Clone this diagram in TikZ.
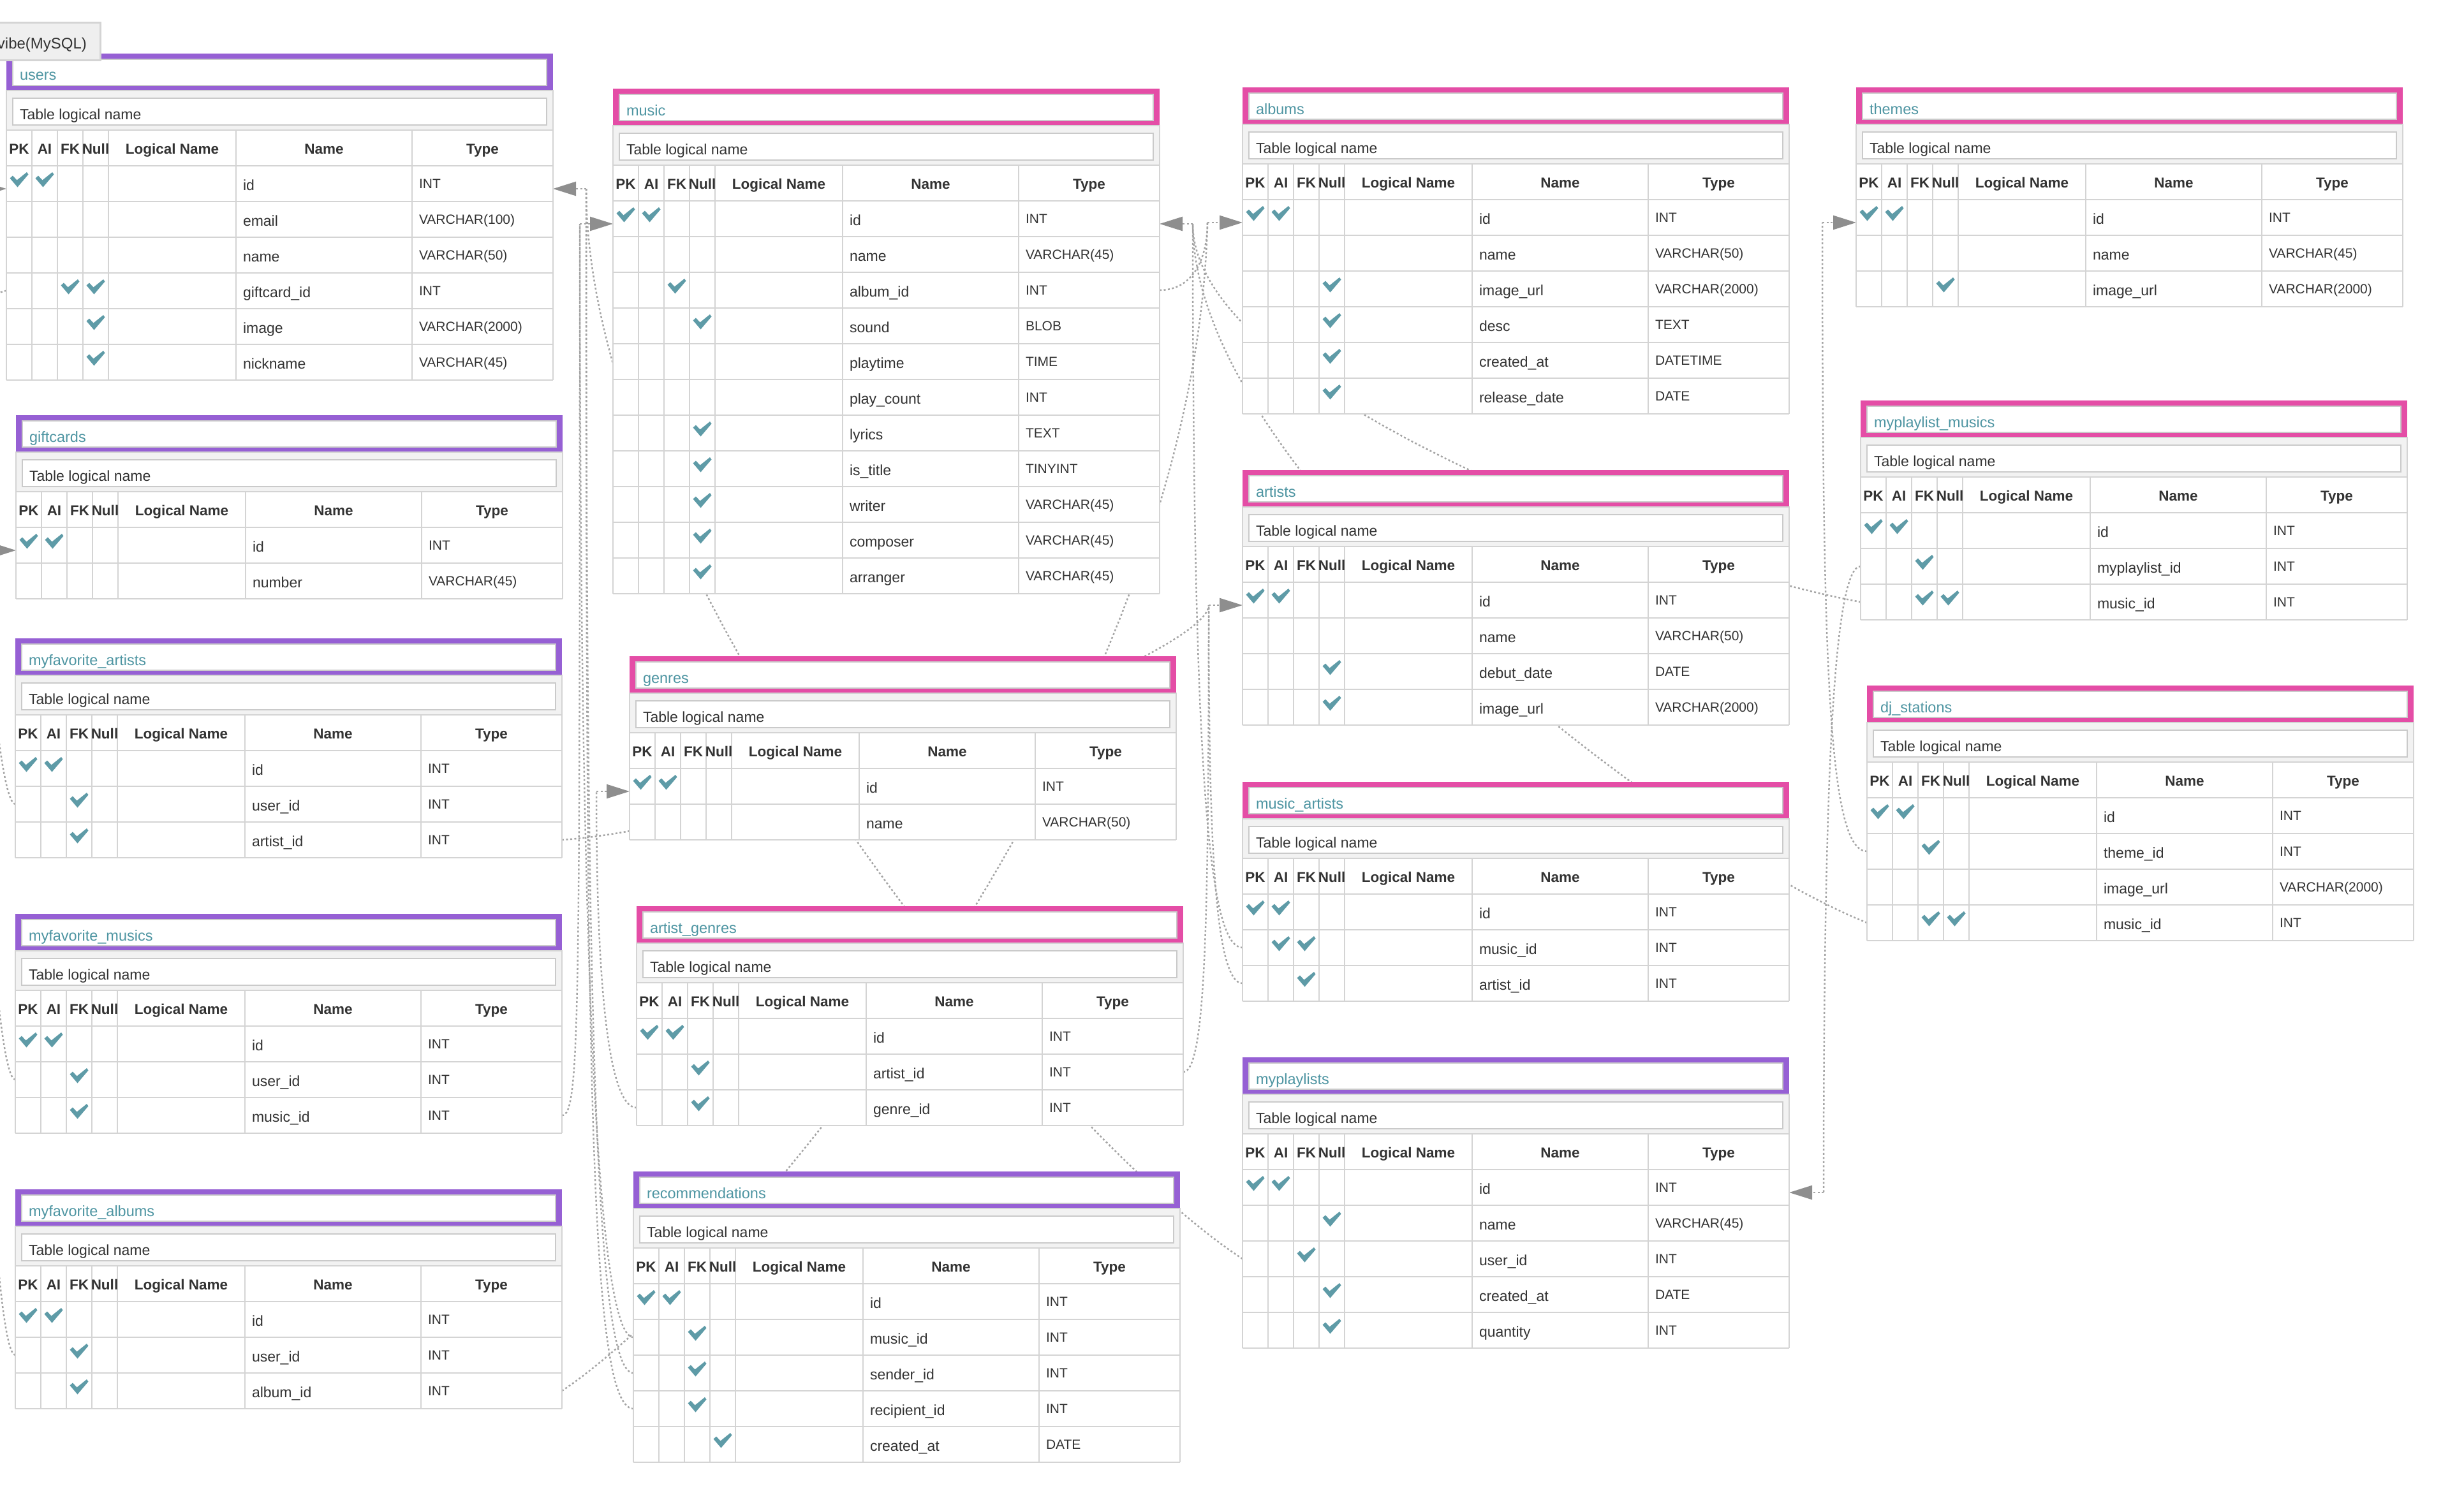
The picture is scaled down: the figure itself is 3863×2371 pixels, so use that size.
\documentclass[tikz,border=0pt]{standalone}
\usepackage{fontspec}
\setmainfont{Liberation Sans}
\usetikzlibrary{positioning,arrows.meta}
\pgfdeclarelayer{background}
\pgfsetlayers{background,main}

\definecolor{purpleframe}{HTML}{9660D4}
\definecolor{pinkframe}{HTML}{E44DA6}
\definecolor{titlecol}{HTML}{4E95A2}
\definecolor{chkcol}{HTML}{5E9BA7}
\definecolor{gridcol}{HTML}{D4D4D4}
\definecolor{bandcol}{HTML}{F2F2F2}
\definecolor{boxcol}{HTML}{CACACA}
\definecolor{textcol}{HTML}{333333}
\definecolor{linecol}{HTML}{A4A4A4}
\definecolor{arrowcol}{HTML}{8E8E8E}
\definecolor{tabcol}{HTML}{EFEFEF}

% one table: key, top left corner, number of rows, frame colour, title, rows
\newcommand{\erdtable}[6]{%
  \begin{scope}[shift={#2}]
    % title bar
    \fill[#4] (0,0) rectangle (857,58);
    \draw[innerbox] (10,9) rectangle (847,50);
    \node[titletext] (#1-title) at (21,42) {#5};
    % logical name bar
    \draw[bandbox] (0,58) rectangle (857,120);
    \draw[innerbox] (10,70) rectangle (847,112);
    \node[plaintext] (#1-logical) at (21,103) {Table logical name};
    % grid
    \pgfmathtruncatemacro{\yb}{176+56*#3}
    \fill[white] (0,120) rectangle (857,\yb);
    \foreach \cx in {0,40,80,120,160,360,636,857}
      \draw[grid] (\cx,120) -- (\cx,\yb);
    \foreach \cy in {120,176,...,\yb}
      \draw[grid] (0,\cy) -- (857,\cy);
    % header
    \foreach \h/\cx [count=\i] in {PK/20,AI/60,FK/100,Null/140,Logical Name/260,Name/498,Type/746.5}
      \node[headtext] (#1-head-\i) at (\cx,157) {\h};
    % rows
    \foreach \pk/\ai/\fk/\nl/\nm/\ty [count=\r] in {#6} {
      \pgfmathtruncatemacro{\ya}{120+56*\r}
      \ifnum\pk=1 \pic at (20,\ya+22) {chk}; \fi
      \ifnum\ai=1 \pic at (60,\ya+22) {chk}; \fi
      \ifnum\fk=1 \pic at (100,\ya+22) {chk}; \fi
      \ifnum\nl=1 \pic at (140,\ya+22) {chk}; \fi
      \node[plaintext] (#1-\r-name) at (371,\ya+38) {\nm};
      \node[typetext] (#1-\r-type) at (647,\ya+35) {\ty};
      \coordinate (#1-\r-w) at (0,\ya+28);
      \coordinate (#1-\r-e) at (857,\ya+28);
    }
    \coordinate (#1-pk-w) at (0,212);
    \coordinate (#1-pk-e) at (857,212);
  \end{scope}}

\begin{document}
\begin{tikzpicture}[x=1pt, y=-1pt,
    every node/.style={inner sep=0pt, outer sep=0pt},
    titletext/.style={anchor=base west, text=titlecol, font=\fontsize{23.5}{28}\selectfont},
    plaintext/.style={anchor=base west, text=textcol, font=\fontsize{23}{28}\selectfont},
    typetext/.style={anchor=base west, text=textcol, font=\fontsize{21}{25}\selectfont},
    headtext/.style={anchor=base, text=textcol, font=\fontsize{22.5}{27}\selectfont\bfseries},
    grid/.style={draw=gridcol, line width=2.5pt},
    bandbox/.style={fill=bandcol, draw=gridcol, line width=2.5pt},
    innerbox/.style={fill=white, draw=boxcol, line width=2pt},
    chk/.pic={\fill[chkcol] (-14.5,-2.5) -- (-10,-6.5) -- (-3.5,0.5) -- (12,-12) -- (14.5,-8.5) -- (-2.5,11.5) -- cycle;},
    rel/.style={draw=linecol, line width=2.5pt, dash pattern=on 3pt off 3.5pt},
    relpk/.style={rel, -{Triangle[length=36pt,width=22pt,color=arrowcol]}},
    tabbox/.style={fill=tabcol, draw=gridcol, line width=3pt, anchor=north west, minimum width=162pt, minimum height=59pt},
    tabtext/.style={anchor=base east, text=textcol, font=\fontsize{24}{28}\selectfont}]

\useasboundingbox (0,0) rectangle (3863,2371);
\clip (0,0) rectangle (3863,2371);

% left column
\erdtable{users}{(10,84)}{6}{purpleframe}{users}{1/1/0/0/id/INT, 0/0/0/0/email/VARCHAR(100), 0/0/0/0/name/VARCHAR(50), 0/0/1/1/giftcard\_id/INT, 0/0/0/1/image/VARCHAR(2000), 0/0/0/1/nickname/VARCHAR(45)}
\erdtable{gift}{(25,651)}{2}{purpleframe}{giftcards}{1/1/0/0/id/INT, 0/0/0/0/number/VARCHAR(45)}
\erdtable{favart}{(24,1001)}{3}{purpleframe}{myfavorite\_artists}{1/1/0/0/id/INT, 0/0/1/0/user\_id/INT, 0/0/1/0/artist\_id/INT}
\erdtable{favmus}{(24,1433)}{3}{purpleframe}{myfavorite\_musics}{1/1/0/0/id/INT, 0/0/1/0/user\_id/INT, 0/0/1/0/music\_id/INT}
\erdtable{favalb}{(24,1865)}{3}{purpleframe}{myfavorite\_albums}{1/1/0/0/id/INT, 0/0/1/0/user\_id/INT, 0/0/1/0/album\_id/INT}

% middle column
\erdtable{music}{(961,139)}{11}{pinkframe}{music}{1/1/0/0/id/INT, 0/0/0/0/name/VARCHAR(45), 0/0/1/0/album\_id/INT, 0/0/0/1/sound/BLOB, 0/0/0/0/playtime/TIME, 0/0/0/0/play\_count/INT, 0/0/0/1/lyrics/TEXT, 0/0/0/1/is\_title/TINYINT, 0/0/0/1/writer/VARCHAR(45), 0/0/0/1/composer/VARCHAR(45), 0/0/0/1/arranger/VARCHAR(45)}
\erdtable{genres}{(987,1029)}{2}{pinkframe}{genres}{1/1/0/0/id/INT, 0/0/0/0/name/VARCHAR(50)}
\erdtable{artgen}{(998,1421)}{3}{pinkframe}{artist\_genres}{1/1/0/0/id/INT, 0/0/1/0/artist\_id/INT, 0/0/1/0/genre\_id/INT}
\erdtable{recom}{(993,1837)}{5}{purpleframe}{recommendations}{1/1/0/0/id/INT, 0/0/1/0/music\_id/INT, 0/0/1/0/sender\_id/INT, 0/0/1/0/recipient\_id/INT, 0/0/0/1/created\_at/DATE}

% right column
\erdtable{albums}{(1948,137)}{6}{pinkframe}{albums}{1/1/0/0/id/INT, 0/0/0/0/name/VARCHAR(50), 0/0/0/1/image\_url/VARCHAR(2000), 0/0/0/1/desc/TEXT, 0/0/0/1/created\_at/DATETIME, 0/0/0/1/release\_date/DATE}
\erdtable{artists}{(1948,737)}{4}{pinkframe}{artists}{1/1/0/0/id/INT, 0/0/0/0/name/VARCHAR(50), 0/0/0/1/debut\_date/DATE, 0/0/0/1/image\_url/VARCHAR(2000)}
\erdtable{musart}{(1948,1226)}{3}{pinkframe}{music\_artists}{1/1/0/0/id/INT, 0/1/1/0/music\_id/INT, 0/0/1/0/artist\_id/INT}
\erdtable{mypl}{(1948,1658)}{5}{purpleframe}{myplaylists}{1/1/0/0/id/INT, 0/0/0/1/name/VARCHAR(45), 0/0/1/0/user\_id/INT, 0/0/0/1/created\_at/DATE, 0/0/0/1/quantity/INT}

% far right column
\erdtable{themes}{(2910,137)}{3}{pinkframe}{themes}{1/1/0/0/id/INT, 0/0/0/0/name/VARCHAR(45), 0/0/0/1/image\_url/VARCHAR(2000)}
\erdtable{mplmus}{(2917,628)}{3}{pinkframe}{myplaylist\_musics}{1/1/0/0/id/INT, 0/0/1/0/myplaylist\_id/INT, 0/0/1/1/music\_id/INT}
\erdtable{djst}{(2927,1075)}{4}{pinkframe}{dj\_stations}{1/1/0/0/id/INT, 0/0/1/0/theme\_id/INT, 0/0/0/0/image\_url/VARCHAR(2000), 0/0/1/1/music\_id/INT}

% junctions beside the primary keys
\coordinate[right=52pt of users-pk-e] (users-jr);
\coordinate[left=52pt of users-pk-w] (users-jl);
\coordinate[left=52pt of gift-pk-w] (gift-jl);
\coordinate[left=52pt of music-pk-w] (music-jl);
\coordinate[right=52pt of music-pk-e] (music-jr);
\coordinate[left=55pt of albums-pk-w] (albums-jl);
\coordinate[left=53pt of artists-pk-w] (artists-jl);
\coordinate[left=52pt of genres-pk-w] (genres-jl);
\coordinate[left=53pt of themes-pk-w] (themes-jl);
\coordinate[right=54pt of mypl-pk-e] (mypl-jr);

\begin{pgfonlayer}{background}
  % lines that run off the left edge
  \draw[rel] (users-4-w) .. controls +(-50,0) and +(0,-200) .. (gift-jl);
  \draw[rel] (favart-2-w) .. controls +(-30,0) and +(0,500) .. (users-jl);
  \draw[rel] (favmus-2-w) .. controls +(-30,0) and +(0,900) .. (users-jl);
  \draw[rel] (favalb-2-w) .. controls +(-30,0) and +(0,1300) .. (users-jl);

  % between left and middle column
  \draw[rel] (favmus-3-e) .. controls +(28,0) and +(0,1250) .. (music-jl);
  \draw[rel] (recom-2-w) .. controls +(-50,0) and +(0,1300) .. (music-jl);
  \draw[rel] (recom-3-w) .. controls +(-60,0) and +(0,1300) .. (users-jr);
  \draw[rel] (recom-4-w) .. controls +(-70,0) and +(0,1350) .. (users-jr);
  \draw[rel] (artgen-3-w) .. controls +(-50,0) and +(0,250) .. (genres-jl);

  % long ones behind the middle column
  \draw[rel] (favart-3-e) .. controls +(300,-20) and +(0,80) .. (artists-jl);
  \draw[rel] (favalb-3-e) .. controls +(270,-180) and +(-20,800) .. (albums-jl);
  \draw[rel] (mypl-3-w) .. controls +(-300,-195) and +(0,600) .. (users-jr);

  % between middle and right column
  \draw[rel] (music-3-e) .. controls +(50,0) and +(0,60) .. (albums-jl);
  \draw[rel] (artgen-2-e) .. controls +(35,0) and +(0,500) .. (artists-jl);
  \draw[rel] (musart-2-w) .. controls +(-50,0) and +(0,900) .. (music-jr);
  \draw[rel] (musart-3-w) .. controls +(-45,0) and +(0,350) .. (artists-jl);

  % far right
  \draw[rel] (mplmus-2-w) .. controls +(-45,0) and +(0,-600) .. (mypl-jr);
  \draw[rel] (mplmus-3-w) .. controls +(-320,-60) and +(0,260) .. (music-jr);
  \draw[rel] (djst-2-w) .. controls +(-60,0) and +(0,700) .. (themes-jl);
  \draw[rel] (djst-4-w) .. controls +(-300,-120) and +(0,400) .. (music-jr);

  % arrow heads into the primary keys
  \foreach \j/\t in {users-jr/users-pk-e, users-jl/users-pk-w, gift-jl/gift-pk-w, music-jl/music-pk-w, music-jr/music-pk-e, albums-jl/albums-pk-w, artists-jl/artists-pk-w, genres-jl/genres-pk-w, themes-jl/themes-pk-w, mypl-jr/mypl-pk-e}
    \draw[relpk] (\j) -- (\t);
\end{pgfonlayer}

% database tab
\node[tabbox] (dbtab) at (-5,36) {};
\node[tabtext] (dbname) at (136,77) {vibe(MySQL)};

\end{tikzpicture}
\end{document}
